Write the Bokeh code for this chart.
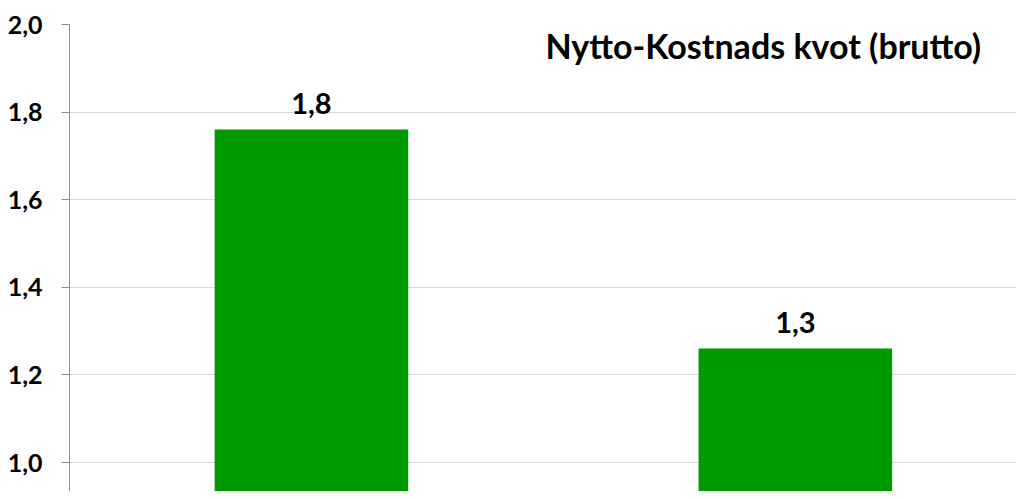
from bokeh.plotting import figure
from bokeh.models import Range1d, ColumnDataSource, Label, SingleIntervalTicker, CustomJSTickFormatter
from bokeh.embed import file_html
from bokeh.resources import INLINE
from bokeh.core.properties import value

# data
categories = ["A", "B"]
ratios = [1.76, 1.26]
value_labels = ["1,8", "1,3"]
title_text = "Nytto-Kostnads kvot (brutto)"

xs = [i + 0.5 for i in range(len(categories))]
src = ColumnDataSource(dict(x=xs, top=ratios, lab=value_labels))

p = figure(width=1016, height=491, output_backend="svg", toolbar_location=None,
           x_range=Range1d(0, 1.957), y_range=Range1d(0.9338, 2.0))
p.min_border_left = 69
p.min_border_right = 0
p.min_border_top = 24
p.min_border_bottom = 0
p.outline_line_color = None
p.background_fill_color = "white"
p.border_fill_color = "white"

p.vbar(x="x", top="top", bottom=0.0, width=0.4, source=src,
       fill_color="#009900", line_color=None)

p.text(x="x", y="top", text="lab", source=src, text_align="center",
       text_baseline="alphabetic", y_offset=-26,
       text_font=value("Lato"), text_font_style="bold", text_font_size="29px",
       text_color="black")

p.add_layout(Label(x=1.884, y=1.952, text=title_text, text_align="right",
                   text_baseline="alphabetic", text_font="Lato",
                   text_font_style="bold", text_font_size="34px", text_color="black"))

p.xaxis.visible = False
p.xgrid.visible = False
p.ygrid.grid_line_color = "#d9d9d9"
p.ygrid.grid_line_width = 1

ya = p.yaxis[0]
ya.ticker = SingleIntervalTicker(interval=0.2)
ya.formatter = CustomJSTickFormatter(code="return tick.toFixed(1).replace('.', ',');")
ya.axis_line_color = "#8c8c8c"
ya.major_tick_line_color = "#8c8c8c"
ya.major_tick_out = 8
ya.major_tick_in = 0
ya.minor_tick_line_color = None
ya.major_label_standoff = 19
ya.major_label_text_font = "Lato"
ya.major_label_text_font_style = "bold"
ya.major_label_text_font_size = "25px"
ya.major_label_text_color = "black"

open("out.html", "w").write(file_html(p, INLINE))
